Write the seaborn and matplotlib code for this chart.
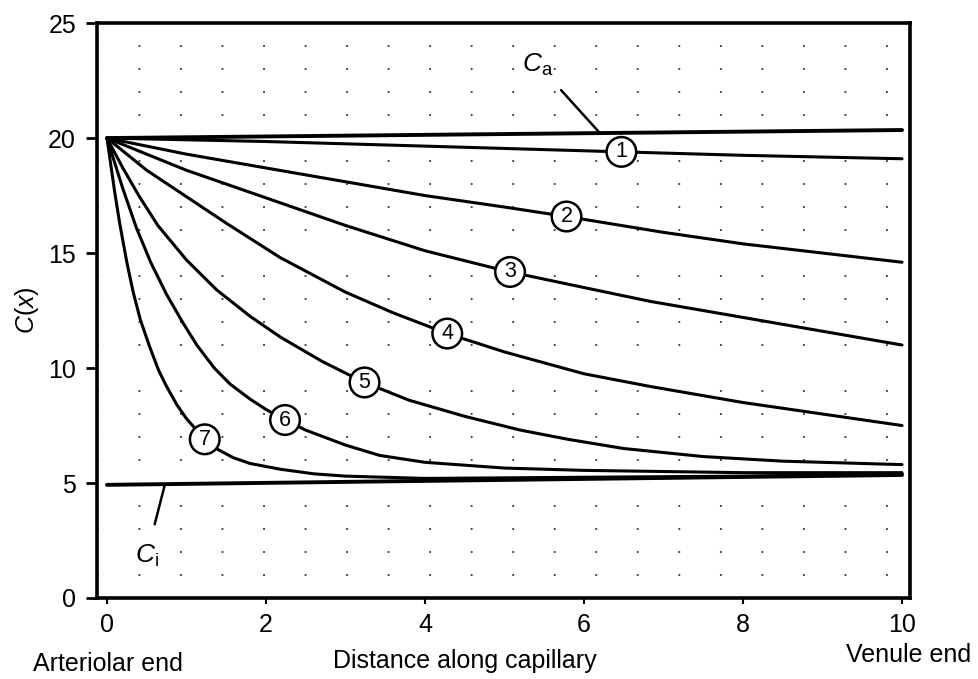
import matplotlib
matplotlib.use("Agg")
import matplotlib.pyplot as plt
import numpy as np
import seaborn as sns

# values (distance along capillary -> C(x))
c1_x = [0, 2, 4, 6.47, 8, 10]
c1_y = [20, 19.85, 19.65, 19.4, 19.25, 19.1]
c2_x = [0, 1, 2, 3, 4, 5, 5.76, 7, 8, 9, 10]
c2_y = [20, 19.3, 18.7, 18.1, 17.5, 17.0, 16.6, 15.9, 15.4, 15.0, 14.6]
c3_x = [0, 1, 2, 3, 4, 5.04, 6, 6.83, 8, 9, 10]
c3_y = [20, 18.6, 17.4, 16.2, 15.1, 14.2, 13.5, 12.9, 12.2, 11.6, 11.0]
c4_x = [0, 0.5, 1, 1.5, 2.18, 3, 3.6, 4.28, 5, 6, 6.83, 8, 9, 10]
c4_y = [20, 18.6, 17.45, 16.3, 14.8, 13.3, 12.4, 11.5, 10.7, 9.75, 9.2, 8.5, 8.0, 7.5]
c5_x = [0, 0.2, 0.4, 0.64, 1.0, 1.38, 1.8, 2.18, 2.7, 3.22, 3.8, 4.5, 5.2, 5.8, 6.5, 7.5, 8.5, 10]
c5_y = [20, 18.7, 17.5, 16.2, 14.7, 13.4, 12.25, 11.35, 10.3, 9.4, 8.6, 7.9, 7.3, 6.9, 6.5, 6.15, 5.95, 5.8]
c6_x = [0, 0.1, 0.2, 0.37, 0.55, 0.75, 0.95, 1.13, 1.35, 1.55, 1.8, 2.0, 2.24, 2.5, 3.0, 3.43, 4, 5, 6, 7, 8, 10]
c6_y = [20, 18.9, 17.8, 16.1, 14.6, 13.2, 12.0, 11.0, 10.0, 9.3, 8.65, 8.2, 7.74, 7.3, 6.65, 6.2, 5.9, 5.65, 5.55, 5.5, 5.45, 5.45]
c7_x = [0, 0.05, 0.1, 0.16, 0.25, 0.33, 0.42, 0.54, 0.65, 0.75, 0.88, 1.0, 1.23, 1.4, 1.59, 1.8, 2.18, 2.6, 3.0, 4, 6, 8, 10]
c7_y = [20, 18.8, 17.6, 16.3, 14.6, 13.3, 12.1, 10.9, 9.9, 9.2, 8.4, 7.8, 6.9, 6.45, 6.1, 5.85, 5.6, 5.4, 5.3, 5.2, 5.25, 5.3, 5.4]
ca_x, ca_y = [0, 10], [20.0, 20.35]
ci_x, ci_y = [0, 10], [4.92, 5.35]

curves = [(c1_x, c1_y), (c2_x, c2_y), (c3_x, c3_y), (c4_x, c4_y),
          (c5_x, c5_y), (c6_x, c6_y), (c7_x, c7_y)]
label_x = [6.47, 5.78, 5.07, 4.28, 3.24, 2.24, 1.23]
x_ticks = [0, 2, 4, 6, 8, 10]
y_ticks = [0, 5, 10, 15, 20, 25]

sns.set_theme(style="white")
plt.rcParams["font.family"] = ["Liberation Sans", "DejaVu Sans"]
plt.rcParams["mathtext.fontset"] = "custom"
plt.rcParams["mathtext.rm"] = "Liberation Sans"
plt.rcParams["mathtext.it"] = "Liberation Sans:italic"
for key in ["text.color", "axes.labelcolor", "xtick.color", "ytick.color"]:
    plt.rcParams[key] = "black"

fig = plt.figure(figsize=(9.79, 6.79), dpi=100)
ax = fig.add_axes([0.099, 0.1193, 0.8305, 0.8467])

# sparse dotted background, like the graph-paper dots of the scan
ax.set_yticks(np.arange(1, 25), minor=True)
ax.grid(which="minor", axis="y", color="0.2", lw=1.3, linestyle=(0, (1, 22)))

sns.lineplot(x=ca_x, y=ca_y, ax=ax, color="black", lw=2.8)
sns.lineplot(x=ci_x, y=ci_y, ax=ax, color="black", lw=2.8)
for cx, cy in curves:
    sns.lineplot(x=cx, y=cy, ax=ax, color="black", lw=2.2, sort=False)

for i, ((cx, cy), lx) in enumerate(zip(curves, label_x), start=1):
    ly = np.interp(lx, cx, cy)
    ax.text(lx, ly, str(i), ha="center", va="center", fontsize=15.5, zorder=5,
            bbox=dict(boxstyle="circle,pad=0.2", fc="white", ec="black", lw=1.8))

ax.annotate(r"$C_{\mathrm{a}}$", xy=(6.2, np.interp(6.2, ca_x, ca_y)), xytext=(5.42, 23.2),
            fontsize=19, ha="center", va="center",
            arrowprops=dict(arrowstyle="-", color="black", lw=1.8, shrinkA=9, shrinkB=0))
ax.annotate(r"$C_{\mathrm{i}}$", xy=(0.73, np.interp(0.73, ci_x, ci_y)), xytext=(0.5, 1.85),
            fontsize=19, ha="center", va="center",
            arrowprops=dict(arrowstyle="-", color="black", lw=1.8, shrinkA=11, shrinkB=0))

ax.set_xlim(-0.126, 10.1)
ax.set_ylim(0, 25)
ax.set_xticks(x_ticks)
ax.set_yticks(y_ticks)
ax.tick_params(axis="y", which="major", direction="out", length=8, width=2, pad=7,
               labelsize=18, left=True)
ax.tick_params(axis="x", which="major", direction="out", length=4, width=1.5, pad=7,
               labelsize=18, bottom=True)
ax.tick_params(which="minor", left=False, length=0)
for s in ax.spines.values():
    s.set_visible(True)
    s.set_color("black")
    s.set_linewidth(2.6)
ax.set_ylabel(r"$C$($x$)", fontsize=18, labelpad=5)
ax.set_xlabel("")

fig.text(0.034, 0.022, "Arteriolar end", fontsize=18, ha="left", va="center")
fig.text(0.475, 0.026, "Distance along capillary", fontsize=18, ha="center", va="center")
fig.text(0.928, 0.036, "Venule end", fontsize=18, ha="center", va="center")

fig.savefig("out.png", dpi=100)
